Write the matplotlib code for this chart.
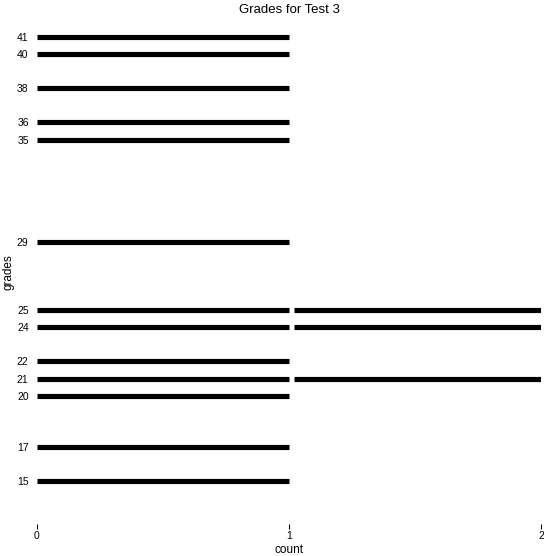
import matplotlib
matplotlib.use('Agg')
import matplotlib.pyplot as plt

plt.rcParams['font.family'] = ['Liberation Sans', 'DejaVu Sans']

# grades and how many students got each
grades = [41, 40, 38, 36, 35, 29, 25, 24, 22, 21, 20, 17, 15]
counts = [1, 1, 1, 1, 1, 1, 2, 2, 1, 2, 1, 1, 1]
x_ticks = [0, 1, 2]

fig = plt.figure(figsize=(5.44, 5.56), dpi=100)
ax = fig.add_axes([37 / 544, 32 / 556, 504 / 544, 504 / 556])

# one segment per counted student, small gap between units
gap = 0.018
for g, c in zip(grades, counts):
    for k in range(1, c + 1):
        start = k - 1 + (gap if k > 1 else 0)
        ax.hlines(g, start, k, colors='black', linewidth=3.7, capstyle='butt')

ax.set_xlim(0, 2)
ax.set_ylim(12.48, 42.0)
ax.set_xticks(x_ticks)
ax.set_yticks(grades)
ax.tick_params(axis='x', length=3.6, width=0.8, pad=1.5, labelsize=7.5)
ax.tick_params(axis='y', length=0, pad=6, labelsize=7.5)

for s in ax.spines.values():
    s.set_visible(False)

ax.set_title('Grades for Test 3', fontsize=9.5, pad=5)
ax.set_xlabel('count', fontsize=8.5, labelpad=2)
ax.set_ylabel('grades', fontsize=8.5, labelpad=2)

plt.savefig('out.png', dpi=100)
